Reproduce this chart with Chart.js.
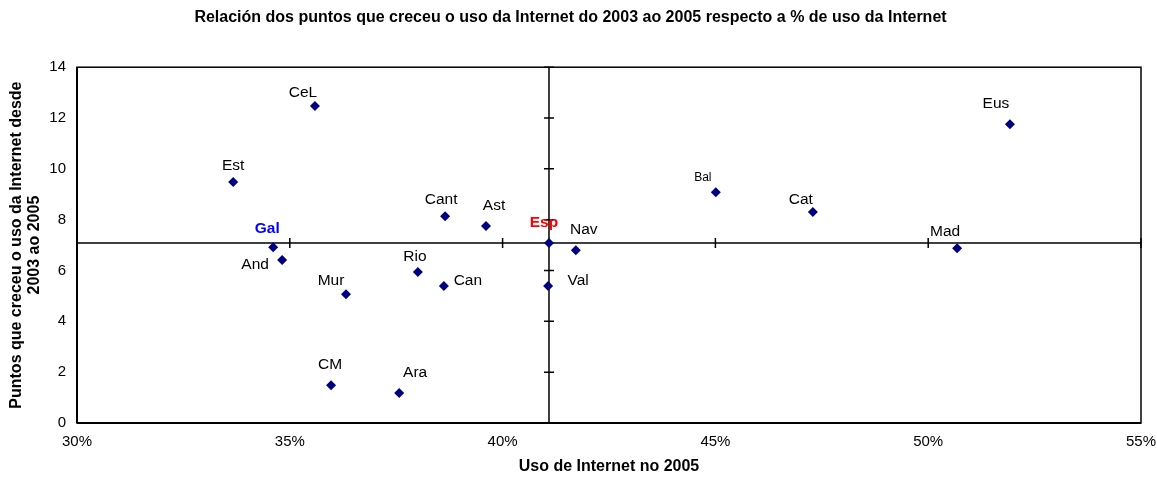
<!DOCTYPE html>
<html>
<head>
<meta charset="utf-8">
<script src="https://cdn.jsdelivr.net/npm/chart.js@4/dist/chart.umd.min.js"></script>
<style>
  html, body { margin: 0; padding: 0; background: #fff; }
  #wrap { width: 1157px; height: 477px; }
</style>
</head>
<body>
<div id="wrap"><canvas id="scatterChart"></canvas></div>
<script>
// comunidades autónomas
var rexions = ['CeL','Est','Gal','And','Mur','CM','Ara','Rio','Can','Cant','Ast','Esp','Nav','Val','Bal','Cat','Mad','Eus'];
// % uso de Internet no 2005
var uso2005 = [35.59,33.67,34.61,34.82,36.32,35.97,37.57,38.01,38.62,38.65,39.61,41.09,41.72,41.07,45.01,47.29,50.68,51.92];
// puntos que creceu desde 2003
var crecemento = [12.47,9.48,6.92,6.41,5.07,1.49,1.18,5.94,5.39,8.14,7.75,7.08,6.80,5.39,9.08,8.30,6.88,11.76];

var xTicks = [30, 35, 40, 45, 50, 55];
var yTicks = [0, 2, 4, 6, 8, 10, 12, 14];

// label placement relative to each point (px)
var labelOffset = {
    CeL:[-12,-13], Est:[0,-16], Gal:[-6,-18], And:[-27,5], Mur:[-15,-13], CM:[-1,-20],
    Ara:[16,-20], Rio:[-3,-15], Can:[24,-5], Cant:[-4,-16], Ast:[8,-20], Esp:[-5,-20],
    Nav:[8,-20], Val:[30,-5], Bal:[-13,-15], Cat:[-12,-12], Mad:[-12,-16], Eus:[-14,-20]
};

var FONT = '"Liberation Sans", Arial, sans-serif';
var iEsp = rexions.indexOf('Esp');

var points = rexions.map(function (r, i) {
    return { x: uso2005[i], y: crecemento[i] };
});

var frameAndCross = {
    id: 'frameAndCross',
    beforeDatasetsDraw: function (chart) {
        var ctx = chart.ctx, a = chart.chartArea;
        var xs = chart.scales.x, ys = chart.scales.y;
        var cx = xs.getPixelForValue(uso2005[iEsp]);
        var cy = ys.getPixelForValue(crecemento[iEsp]);
        ctx.save();
        ctx.strokeStyle = '#000';
        ctx.lineWidth = 1.5;
        ctx.strokeRect(a.left, a.top, a.right - a.left, a.bottom - a.top);
        ctx.lineWidth = 2;
        ctx.beginPath();
        ctx.moveTo(a.left, a.bottom); ctx.lineTo(a.right, a.bottom);
        ctx.moveTo(a.left, a.top); ctx.lineTo(a.left, a.bottom);
        ctx.stroke();
        // cross through Esp
        ctx.lineWidth = 1.5;
        ctx.beginPath();
        ctx.moveTo(a.left, cy); ctx.lineTo(a.right, cy);
        ctx.moveTo(cx, a.top); ctx.lineTo(cx, a.bottom);
        xTicks.forEach(function (v) {
            var px = xs.getPixelForValue(v);
            ctx.moveTo(px, cy - 5); ctx.lineTo(px, cy + 5);
        });
        yTicks.forEach(function (v) {
            var py = ys.getPixelForValue(v);
            ctx.moveTo(cx - 5, py); ctx.lineTo(cx + 5, py);
        });
        ctx.stroke();
        ctx.restore();
    },
    afterDatasetsDraw: function (chart) {
        var ctx = chart.ctx;
        var meta = chart.getDatasetMeta(0);
        ctx.save();
        ctx.textAlign = 'center';
        ctx.textBaseline = 'middle';
        meta.data.forEach(function (el, i) {
            var r = rexions[i];
            var off = labelOffset[r];
            ctx.fillStyle = '#000';
            ctx.font = '15.5px ' + FONT;
            if (r === 'Gal') { ctx.fillStyle = '#0000ff'; ctx.font = 'bold 15.5px ' + FONT; }
            if (r === 'Esp') { ctx.fillStyle = '#ff0000'; ctx.font = 'bold 15.5px ' + FONT; }
            if (r === 'Bal') { ctx.font = '12px ' + FONT; }
            ctx.fillText(r, el.x + off[0], el.y + off[1]);
        });
        ctx.restore();
    }
};

var scatterChart = new Chart(document.getElementById('scatterChart'), {
    type: 'scatter',
    data: {
        datasets: [{
            data: points,
            pointStyle: 'rectRot',
            pointRadius: 5,
            pointHoverRadius: 5,
            backgroundColor: '#000080',
            borderColor: '#000080',
            borderWidth: 0
        }]
    },
    options: {
        responsive: true,
        maintainAspectRatio: false,
        animation: false,
        layout: { padding: { left: 0, right: 16, top: 0, bottom: 0 } },
        plugins: {
            legend: { display: false },
            tooltip: { enabled: false },
            title: {
                display: true,
                text: 'Relación dos puntos que creceu o uso da Internet do 2003 ao 2005 respecto a % de uso da Internet',
                color: '#000',
                font: { family: FONT, size: 16, weight: 'bold' },
                padding: { top: 8, bottom: 40 }
            }
        },
        scales: {
            x: {
                type: 'linear',
                min: 30, max: 55,
                afterBuildTicks: function (s) { s.ticks = xTicks.map(function (v) { return { value: v }; }); },
                afterFit: function (s) { s.height = 54; s.paddingLeft = 0; s.paddingRight = 0; },
                grid: { display: false, drawTicks: false },
                border: { display: false },
                ticks: {
                    color: '#000', padding: 10,
                    font: { family: FONT, size: 15 },
                    callback: function (v) { return v + '%'; }
                },
                title: {
                    display: true,
                    text: 'Uso de Internet no 2005',
                    color: '#000',
                    font: { family: FONT, size: 16, weight: 'bold' },
                    padding: { top: 0, bottom: 1 }
                }
            },
            y: {
                min: 0, max: 14,
                afterBuildTicks: function (s) { s.ticks = yTicks.map(function (v) { return { value: v }; }); },
                afterFit: function (s) { s.width = 77; },
                grid: { display: false, drawTicks: false },
                border: { display: false },
                ticks: {
                    color: '#000', padding: 11,
                    font: { family: FONT, size: 15 }
                },
                title: {
                    display: true,
                    text: ['Puntos que creceu o uso da Internet desde', '2003 ao 2005'],
                    color: '#000',
                    font: { family: FONT, size: 16, weight: 'bold', lineHeight: 1.125 },
                    padding: { top: 8, bottom: 0 }
                }
            }
        }
    },
    plugins: [frameAndCross]
});
</script>
</body>
</html>
